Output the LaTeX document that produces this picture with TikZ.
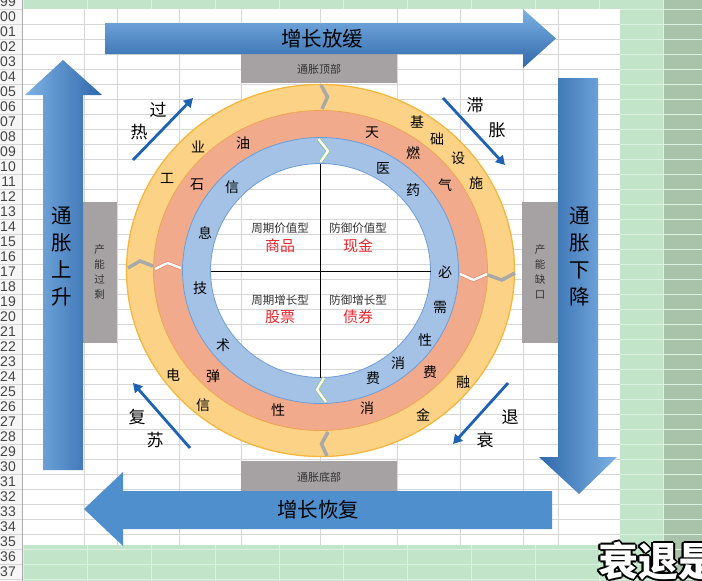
\documentclass[tikz,border=0pt]{standalone}
\usepackage{fontspec}
\newfontfamily\cjk{Noto Sans CJK SC}
\newfontfamily\rowfont{Liberation Sans}
\usetikzlibrary{arrows.meta}
\definecolor{sheetgreen}{HTML}{C2E5C9}
\definecolor{darkgreen}{HTML}{A8C3A9}
\definecolor{greenline}{HTML}{DDF1E2}
\definecolor{gridgray}{HTML}{D6D6D6}
\definecolor{headbg}{HTML}{F6F6F6}
\definecolor{rowtext}{HTML}{454545}
\definecolor{ringorange}{HTML}{FCD386}
\definecolor{ringorangeedge}{HTML}{F4B63C}
\definecolor{ringsalmon}{HTML}{F1AA8C}
\definecolor{ringsalmonedge}{HTML}{E4896A}
\definecolor{ringblue}{HTML}{A4C2E6}
\definecolor{ringblueedge}{HTML}{6E9DD5}
\definecolor{boxgray}{HTML}{A6A2A3}
\definecolor{boxtext}{HTML}{333333}
\definecolor{lightblue}{HTML}{7EB2E4}
\definecolor{darkblue}{HTML}{2F68AB}
\definecolor{solidblue}{HTML}{4F8FCE}
\definecolor{phaseblue}{HTML}{1E62B4}
\definecolor{quadred}{HTML}{E8282E}
\definecolor{quadgray}{HTML}{333333}
\definecolor{chevgraycol}{HTML}{A9A9A9}
\definecolor{chevgreen}{HTML}{8FC66A}
\begin{document}
\begin{tikzpicture}[x=1pt,y=-1pt,
  rownum/.style={font=\rowfont\fontsize{14}{14}\selectfont, text=rowtext, anchor=east, inner sep=0},
  bigtxt/.style={font=\cjk\fontsize{20.5}{27}\selectfont, text=black, align=center, inner sep=0},
  ringchar/.style={font=\cjk\fontsize{14}{14}\selectfont, text=black, inner sep=0},
  quadlabel/.style={font=\cjk\fontsize{11.5}{12}\selectfont, text=quadgray, inner sep=0},
  quadvalue/.style={font=\cjk\fontsize{15}{15}\selectfont, text=quadred, inner sep=0},
  graybox/.style={fill=boxgray, draw=none, inner sep=0},
  boxlabel/.style={font=\cjk\fontsize{11}{11}\selectfont, text=boxtext, inner sep=0},
  vboxlabel/.style={font=\cjk\fontsize{10.5}{15}\selectfont, text=boxtext, align=center, inner sep=0},
  phaselabel/.style={font=\cjk\fontsize{17}{17}\selectfont, text=black, inner sep=0},
  phasearrow/.style={-{Triangle[length=9pt,width=10pt]}, line width=2.8pt, draw=phaseblue},
  chevgray/.style={draw=chevgraycol, line width=3.5pt, line join=miter},
  chevwhite/.style={draw=#1, double=white, double distance=2.4pt, line width=0.7pt, line join=miter},
  subtitle/.style={font=\cjk\bfseries\fontsize{40}{40}\selectfont, anchor=west, inner sep=0}
]
\useasboundingbox (0,0) rectangle (702,581);

% ---------- background (spreadsheet) ----------
\fill[sheetgreen] (0,0) rectangle (702,581);
\fill[darkgreen] (663,0) rectangle (702,581);
\foreach \k in {0,...,38} \draw[greenline, line width=0.8pt] (22,{9+15*\k}) -- (702,{9+15*\k});
\foreach \k in {0,...,10} \draw[greenline, line width=0.8pt] ({23+64*\k},0) -- ({23+64*\k},581);
\fill[white] (22,9) rectangle (620,545);
\foreach \k in {1,...,35} \draw[gridgray, line width=0.9pt] (22,{9+15*\k}) -- (620,{9+15*\k});
\foreach \xx in {84,117,179,241,320,397,460,523,558} \draw[gridgray, line width=0.9pt] (\xx,9) -- (\xx,545);
\fill[headbg] (0,0) rectangle (22,581);
\foreach \k in {0,...,38} \draw[gridgray, line width=0.8pt] (0,{9+15*\k}) -- (22,{9+15*\k});
\draw[gridgray!80!black, line width=0.8pt] (22,0) -- (22,581);
\foreach \k in {-1,...,37}
  \node[rownum] (row\k) at (16,{16.5+15*\k}) {\ifnum\k<0 99\else\ifnum\k<10 0\fi\k\fi};

% ---------- gray boxes ----------
\node[graybox, minimum width=156pt, minimum height=30pt] (topbox) at (319,68) {};
\node[boxlabel] (topboxtxt) at (319,69) {通胀顶部};
\node[graybox, minimum width=156pt, minimum height=30pt] (botbox) at (319,476) {};
\node[boxlabel] (botboxtxt) at (319,477) {通胀底部};
\node[graybox, minimum width=34pt, minimum height=141pt] (leftbox) at (100,272.5) {};
\node[vboxlabel] (leftboxtxt) at (99.5,272) {产\\能\\过\\剩};
\node[graybox, minimum width=36pt, minimum height=141pt] (rightbox) at (540,272.5) {};
\node[vboxlabel] (rightboxtxt) at (540,272) {产\\能\\缺\\口};

% ---------- big arrows ----------
\shade[top color=lightblue, bottom color=darkblue]
  (105,23) -- (523,23) -- (523,9) -- (556,38.5) -- (523,68) -- (523,54) -- (105,54) -- cycle;
\node[bigtxt] (slow) at (322,39) {增长放缓};
\shade[left color=lightblue, right color=darkblue]
  (43,470) -- (43,95) -- (25,95) -- (63,60) -- (102,95) -- (83,95) -- (83,470) -- cycle;
\node[bigtxt] (infup) at (62,257) {通\\胀\\上\\升};
\shade[left color=darkblue, right color=lightblue]
  (558,78) -- (598,78) -- (598,457) -- (617,457) -- (579,494) -- (539,457) -- (558,457) -- cycle;
\node[bigtxt] (infdown) at (580,257) {通\\胀\\下\\降};
\fill[solidblue]
  (552,491) -- (123,491) -- (123,472) -- (84,509) -- (123,546) -- (123,529) -- (552,529) -- cycle;
\node[bigtxt] (recover) at (318,510) {增长恢复};

% ---------- rings ----------
\coordinate (C) at (320.5,270.5);
\fill[ringorange, even odd rule] (C) ellipse [x radius=194, y radius=186] (C) ellipse [x radius=167, y radius=160];
\fill[ringsalmon, even odd rule] (C) ellipse [x radius=167, y radius=160] (C) ellipse [x radius=138, y radius=133];
\fill[ringblue, even odd rule] (C) ellipse [x radius=138, y radius=133] (C) ellipse [x radius=110, y radius=107];
\draw[ringorangeedge, line width=1.3pt] (C) ellipse [x radius=194, y radius=186];
\draw[ringorangeedge!60!ringsalmonedge, line width=0.8pt] (C) ellipse [x radius=167, y radius=160];
\draw[ringblueedge, line width=0.8pt] (C) ellipse [x radius=138, y radius=133];
\draw[ringblueedge, line width=0.8pt] (C) ellipse [x radius=110, y radius=107];

% separators (zigzags)
\draw[chevgray] (321,85) -- (327.5,97) -- (322,109);
\draw[chevwhite=chevgreen] (318.5,139) -- (328,151) -- (320.5,162);
\draw[chevgray] (128,268) -- (140,261) -- (153,266);
\draw[chevwhite=ringsalmonedge] (155,269) -- (167.5,263) -- (181,268);
\draw[chevwhite=ringsalmonedge] (460,274) -- (473.5,280) -- (487,274);
\draw[chevgray] (488,275) -- (502,280) -- (515,273);
\draw[chevwhite=chevgreen] (324,378) -- (317,389.5) -- (326,402);
\draw[chevgray] (328,432) -- (321.5,444) -- (327,456);

% quadrant dividers
\coordinate (vtop) at (320.5,163.5);
\coordinate (vbot) at (320.5,377.5);
\coordinate (hl) at (210.5,271);
\coordinate (hr) at (430.5,271);
\draw[black, line width=0.8pt] (vtop) -- (vbot);
\draw[black, line width=0.8pt] (hl) -- (hr);

% quadrant texts
\node[quadlabel] (q1a) at (280,228) {周期价值型};
\node[quadvalue] (q1b) at (280,246) {商品};
\node[quadlabel] (q2a) at (358,228) {防御价值型};
\node[quadvalue] (q2b) at (358,246) {现金};
\node[quadlabel] (q3a) at (280,300) {周期增长型};
\node[quadvalue] (q3b) at (280,317) {股票};
\node[quadlabel] (q4a) at (358,300) {防御增长型};
\node[quadvalue] (q4b) at (358,317) {债券};

% ring characters
\foreach \t/\xx/\yy [count=\i] in {
  工/167/178, 业/198/147, 基/417/122, 础/437/139, 设/458/158, 施/476/183,
  融/463/382, 金/423/415, 电/173/375, 信/203/405,
  石/197/185, 油/243/143, 天/372/133, 燃/413/153, 气/445/185,
  费/430/372, 消/367/408, 性/278/410, 弹/213/376,
  信/232/187, 息/205/233, 技/200/288, 术/223/345,
  医/383/168, 药/413/190, 必/445/272, 需/440/307, 性/425/340, 消/398/363, 费/373/378}
  \node[ringchar] (rc\i) at (\xx,\yy) {\t};

% ---------- phase arrows ----------
\coordinate (oha) at (133,160); \coordinate (ohb) at (193,98);
\coordinate (sta) at (443,98);  \coordinate (stb) at (505,165);
\coordinate (rea) at (508,383); \coordinate (reb) at (453,444);
\coordinate (rca) at (190,448); \coordinate (rcb) at (133,383);
\draw[phasearrow] (oha) -- (ohb);
\draw[phasearrow] (sta) -- (stb);
\draw[phasearrow] (rea) -- (reb);
\draw[phasearrow] (rca) -- (rcb);
\node[phaselabel] (p1) at (158,110) {过};
\node[phaselabel] (p2) at (139,132) {热};
\node[phaselabel] (p3) at (475,105) {滞};
\node[phaselabel] (p4) at (497,130) {胀};
\node[phaselabel] (p5) at (510,417) {退};
\node[phaselabel] (p6) at (485,440) {衰};
\node[phaselabel] (p7) at (137,417) {复};
\node[phaselabel] (p8) at (155,440) {苏};

% ---------- subtitle ----------
\foreach \dx/\dy in {-1.8/0,1.8/0,0/-1.8,0/1.8,-1.3/-1.3,1.3/1.3,-1.3/1.3,1.3/-1.3}
  \node[subtitle, text=black] (subshadow) at (598+\dx,561+\dy) {衰退是};
\node[subtitle, text=white] (sub) at (598,561) {衰退是};
\end{tikzpicture}
\end{document}
